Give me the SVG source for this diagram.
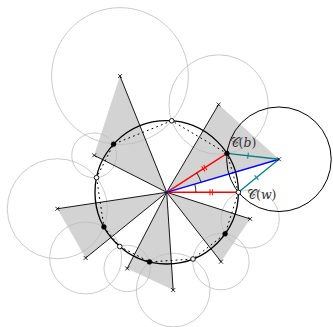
<svg xmlns="http://www.w3.org/2000/svg" width="333" height="327" viewBox="0 0 333 327">
<defs>
<style>
.tri{fill:#d3d3d3;stroke:none}
.gc{fill:none;stroke:#bdbdbd;stroke-width:0.8}
.bc{fill:none;stroke:#000;stroke-width:1}
.ray{stroke:#000;stroke-width:0.9;fill:none}
.main{fill:none;stroke:#000;stroke-width:1.3}
.dot{fill:none;stroke:#000;stroke-width:1;stroke-dasharray:1 4;stroke-linecap:round}
.red{stroke:#ff0000;stroke-width:1.4;fill:none}
.blue{stroke:#0000ff;stroke-width:1.4;fill:none}
.teal{stroke:#008080;stroke-width:1.3;fill:none}
.ang{stroke:#000;stroke-width:0.8;fill:none}
.x{stroke:#000;stroke-width:0.8;fill:none}
.wp{fill:#fff;stroke:#000;stroke-width:0.9}
.bp{fill:#000;stroke:#000;stroke-width:0.6}
.lbl{font-family:"DejaVu Serif","Liberation Serif",serif;font-size:12.5px;fill:#333}
</style>
<path id="xm" d="M-2,-2L2,2M-2,2L2,-2"/>
</defs>
<g id="triangles">
<polygon class="tri" points="166.7,192.3 278.94,159.27 218.62,104.51"/>
<polygon class="tri" points="166.7,192.3 119.96,76.05 94.17,155.34"/>
<polygon class="tri" points="166.7,192.3 57.33,208.75 85.65,257.94"/>
<polygon class="tri" points="166.7,192.3 127.21,268.47 173.2,290.08"/>
<polygon class="tri" points="166.7,192.3 221.0,261.68 250.16,218.93"/>
</g>
<g id="gray-circles">
<circle class="gc" cx="218.62" cy="104.51" r="49.66"/>
<circle class="gc" cx="119.96" cy="76.05" r="68.39"/>
<circle class="gc" cx="94.17" cy="155.34" r="22.42"/>
<circle class="gc" cx="57.33" cy="208.75" r="50.03"/>
<circle class="gc" cx="85.65" cy="257.94" r="35.98"/>
<circle class="gc" cx="127.21" cy="268.47" r="23.2"/>
<circle class="gc" cx="173.2" cy="290.08" r="36.83"/>
<circle class="gc" cx="221.0" cy="261.68" r="28.15"/>
<circle class="gc" cx="250.16" cy="218.93" r="29.11"/>
</g>
<g id="black-circle">
<circle class="bc" cx="278.94" cy="159.27" r="52.29"/>
</g>
<g id="connectors">
<line class="ray" x1="166.7" y1="192.3" x2="218.62" y2="104.51"/>
<line class="ray" x1="166.7" y1="192.3" x2="119.96" y2="76.05"/>
<line class="ray" x1="166.7" y1="192.3" x2="94.17" y2="155.34"/>
<line class="ray" x1="166.7" y1="192.3" x2="57.33" y2="208.75"/>
<line class="ray" x1="166.7" y1="192.3" x2="85.65" y2="257.94"/>
<line class="ray" x1="166.7" y1="192.3" x2="127.21" y2="268.47"/>
<line class="ray" x1="166.7" y1="192.3" x2="173.2" y2="290.08"/>
<line class="ray" x1="166.7" y1="192.3" x2="221.0" y2="261.68"/>
<line class="ray" x1="166.7" y1="192.3" x2="250.16" y2="218.93"/>
</g>
<g id="main-circle">
<circle class="main" cx="166.7" cy="192.3" r="71.7"/>
<polygon class="dot" points="238.4,192.3 226.97,153.46 171.7,120.77 113.59,144.14 96.51,177.64 103.93,226.95 119.76,246.5 149.48,261.9 192.98,259.01 225.14,233.84"/>
</g>
<g id="colored">
<line class="red" x1="166.7" y1="192.3" x2="226.97" y2="153.46"/>
<line class="red" x1="166.7" y1="192.3" x2="238.4" y2="192.3"/>
<line class="blue" x1="166.7" y1="192.3" x2="278.94" y2="159.27"/>
<line class="teal" x1="278.94" y1="159.27" x2="226.97" y2="153.46"/>
<line class="teal" x1="278.94" y1="159.27" x2="238.4" y2="192.3"/>
<path class="ang" d="M195.9,192.3 A29.2,29.2 0 0 0 194.71,184.06"/>
<path class="ang" d="M201.0,182.2 A35.8,35.8 0 0 0 196.79,172.91"/>
<g transform="translate(204.3,168.2) rotate(-32.8)">
<path class="red" style="stroke-width:1" d="M-1.2,-3V3M1.2,-3V3"/>
</g>
<g transform="translate(211.2,192.3)">
<path class="red" style="stroke-width:1" d="M-1.2,-3V3M1.2,-3V3"/>
</g>
<g transform="translate(248,155.8) rotate(6.4)">
<path class="teal" style="stroke-width:1" d="M0,-3V3"/>
</g>
<g transform="translate(256.5,177.6) rotate(-39.2)">
<path class="teal" style="stroke-width:1" d="M0,-3V3"/>
</g>
</g>
<g id="crosses">
<use href="#xm" class="x" x="278.94" y="159.27"/>
<use href="#xm" class="x" x="218.62" y="104.51"/>
<use href="#xm" class="x" x="119.96" y="76.05"/>
<use href="#xm" class="x" x="94.17" y="155.34"/>
<use href="#xm" class="x" x="57.33" y="208.75"/>
<use href="#xm" class="x" x="85.65" y="257.94"/>
<use href="#xm" class="x" x="127.21" y="268.47"/>
<use href="#xm" class="x" x="173.2" y="290.08"/>
<use href="#xm" class="x" x="221.0" y="261.68"/>
<use href="#xm" class="x" x="250.16" y="218.93"/>
</g>
<g id="points">
<circle class="wp" cx="238.4" cy="192.3" r="2.3"/>
<circle class="bp" cx="226.97" cy="153.46" r="2.4"/>
<circle class="wp" cx="171.7" cy="120.77" r="2.3"/>
<circle class="bp" cx="113.59" cy="144.14" r="2.4"/>
<circle class="wp" cx="96.51" cy="177.64" r="2.3"/>
<circle class="bp" cx="103.93" cy="226.95" r="2.4"/>
<circle class="wp" cx="119.76" cy="246.5" r="2.3"/>
<circle class="bp" cx="149.48" cy="261.9" r="2.4"/>
<circle class="wp" cx="192.98" cy="259.01" r="2.3"/>
<circle class="bp" cx="225.14" cy="233.84" r="2.4"/>
</g>
<g id="labels">
<text class="lbl" x="229.5" y="147">𝒞(<tspan font-style="italic">b</tspan>)</text>
<text class="lbl" x="247" y="198.5">𝒞(<tspan font-style="italic">w</tspan>)</text>
</g>
</svg>
